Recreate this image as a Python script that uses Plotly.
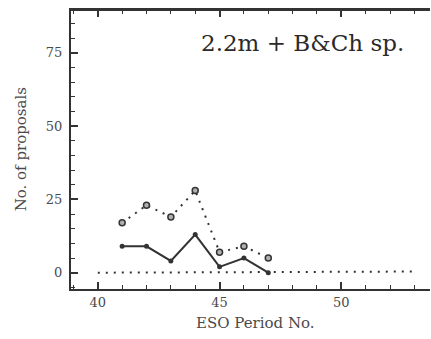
import plotly.graph_objects as go

periods = [41, 42, 43, 44, 45, 46, 47]
accepted = [9, 9, 4, 13, 2, 5, 0]
submitted = [17, 23, 19, 28, 7, 9, 5]
base_periods = [40, 53]
base_values = [0, 0.4]

title_text = "2.2m + B&Ch sp."
x_title = "ESO Period No."
y_title = "No. of proposals"

ink = "#333333"
txt = "#4a4a4a"
serif = "DejaVu Serif"

fig = go.Figure()
fig.add_trace(go.Scatter(x=base_periods, y=base_values, mode="lines",
                         line=dict(color=ink, width=2, dash="2px,6px"),
                         hoverinfo="skip"))
fig.add_trace(go.Scatter(x=periods, y=submitted, mode="lines+markers",
                         line=dict(color=ink, width=2, dash="2px,6px"),
                         marker=dict(symbol="circle", size=6, color="#b0b0b0",
                                     line=dict(color=ink, width=1.5))))
fig.add_trace(go.Scatter(x=periods, y=accepted, mode="lines+markers",
                         line=dict(color=ink, width=2),
                         marker=dict(symbol="circle", size=5, color=ink)))

x_range = [38.9, 53.64]

fig.update_layout(
    width=431, height=339,
    margin=dict(l=71, r=1, t=10, b=50),
    paper_bgcolor="white", plot_bgcolor="white",
    showlegend=False,
    font=dict(family=serif, color=txt),
    xaxis=dict(range=x_range, tickmode="linear", tick0=40, dtick=5,
               ticks="inside", ticklen=7, tickwidth=1.5, tickcolor=ink,
               minor=dict(dtick=1, tick0=40, ticks="inside", ticklen=4,
                          tickwidth=1.3, tickcolor=ink),
               showline=True, linecolor=ink, linewidth=2, mirror="allticks",
               showgrid=False, zeroline=False,
               tickfont=dict(family=serif, size=13, color=txt)),
    yaxis=dict(range=[-5.56, 89.56], tickmode="linear", tick0=0, dtick=25,
               ticks="inside", ticklen=7, tickwidth=1.5, tickcolor=ink,
               minor=dict(dtick=5, tick0=0, ticks="inside", ticklen=4,
                          tickwidth=1.3, tickcolor=ink),
               showline=True, linecolor=ink, linewidth=2, mirror=False,
               showgrid=False, zeroline=False, ticklabelstandoff=4,
               tickfont=dict(family=serif, size=13, color=txt)),
    shapes=[dict(type="line", xref="paper", yref="paper", x0=0, x1=1, y0=1, y1=1,
                 line=dict(color=ink, width=2), layer="above")],
    annotations=[
        dict(text=title_text, xref="paper", yref="paper", x=0.644, y=0.88,
             showarrow=False, xanchor="center", yanchor="middle",
             font=dict(family=serif, size=23, color="#2a2a2a")),
        dict(text=x_title, xref="paper", yref="paper", x=0.514, y=-0.121,
             showarrow=False, xanchor="center", yanchor="middle",
             font=dict(family=serif, size=15, color=txt)),
        dict(text=y_title, xref="paper", yref="paper", x=-0.1397, y=0.50,
             showarrow=False, xanchor="center", yanchor="middle", textangle=-90,
             font=dict(family=serif, size=15, color=txt)),
    ],
)

fig.write_html("out.html")
